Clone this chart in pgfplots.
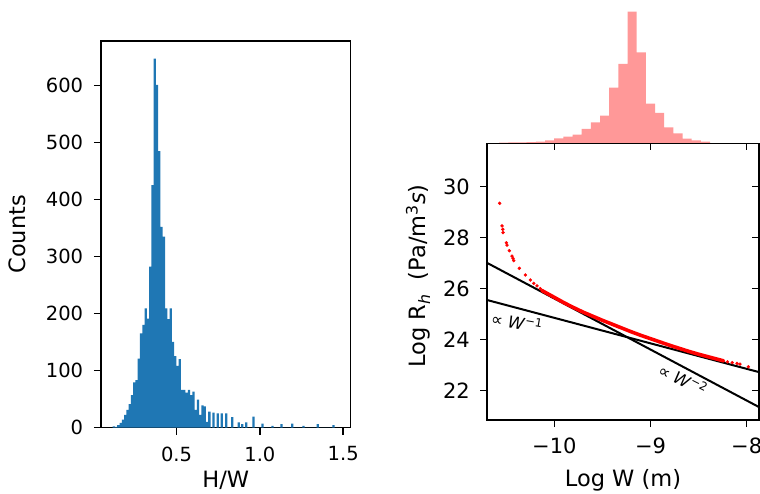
\documentclass[border=0pt]{standalone}
\usepackage{fontspec}
\setmainfont{DejaVu Sans}
\usepackage{pgfplots}
\pgfplotsset{compat=1.18}
\definecolor{mplblue}{HTML}{1F77B4}
\definecolor{pinkh}{RGB}{255,152,152}
\newcommand\fsA{\fontsize{19.5}{23}\selectfont}
\newcommand\fsAL{\fontsize{22.5}{26}\selectfont}
\newcommand\fsB{\fontsize{21}{25}\selectfont}
\newcommand\fsBL{\fontsize{22.5}{26}\selectfont}
\newcommand\fsC{\fontsize{16.5}{20}\selectfont}
\begin{document}
\begin{tikzpicture}[x=1pt,y=1pt]
% ---------------- left histogram ----------------
\begin{axis}[
  at={(101pt,65.5pt)}, anchor=south west,
  width=249.7pt, height=386.5pt, scale only axis,
  xmin=0.047, xmax=1.545, ymin=0, ymax=678,
  axis line style={line width=1.5pt},
  tick align=outside, xtick pos=bottom, ytick pos=left,
  major tick length=7pt,
  every tick/.style={black, line width=1.5pt},
  xtick={0.5,1.0,1.5}, xticklabels={0.5,1.0,1.5},
  ytick={0,100,200,300,400,500,600}, yticklabels={0,100,200,300,400,500,600},
  tick label style={font=\fsA},
  xticklabel style={inner sep=0pt, anchor=north, yshift=-12pt},
  yticklabel style={inner sep=0pt, anchor=east, xshift=-10.7pt},
  every axis x label/.style={at={(axis description cs:0.5,-0.156)}, anchor=base, font=\fsAL},
  every axis y label/.style={at={(axis description cs:-0.3344,0.5)}, rotate=90, anchor=center, font=\fsAL},
  xlabel={H/W}, ylabel={Counts},
]
\addplot[ybar interval, fill=mplblue, draw=none] coordinates {
(0.1170,2) (0.1307,1) (0.1443,4) (0.1580,8) (0.1716,14) (0.1853,22) (0.1989,31)
(0.2126,41) (0.2262,57) (0.2399,79) (0.2535,83) (0.2672,121) (0.2808,165) (0.2945,180)
(0.3081,209) (0.3218,191) (0.3354,282) (0.3491,425) (0.3627,647) (0.3764,601) (0.3900,485)
(0.4037,352) (0.4173,335) (0.4310,209) (0.4446,190) (0.4583,209) (0.4719,150) (0.4856,125)
(0.4992,108) (0.5129,120) (0.5265,66) (0.5402,66) (0.5538,61) (0.5675,66) (0.5811,57)
(0.5948,63) (0.6084,31) (0.6221,49) (0.6357,22) (0.6494,39) (0.6630,37) (0.6767,10)
(0.6903,28) (0.7040,0) (0.7150,26) (0.7287,0) (0.7410,25) (0.7547,0) (0.7650,25) (0.7787,0)
(0.7910,25) (0.8047,0) (0.8270,18) (0.8407,0) (0.8670,9) (0.8807,0) (0.8870,6) (0.9007,0)
(0.9110,9) (0.9247,0) (0.9550,19) (0.9687,0) (1.0090,7) (1.0227,0) (1.0690,3) (1.0827,0)
(1.1230,6) (1.1367,0) (1.1870,7) (1.2007,0) (1.2550,3) (1.2687,0) (1.3410,6) (1.3547,0)
(1.4350,4) (1.4487,0)
};
\end{axis}
% ---------------- right top histogram ----------------
\begin{axis}[
  at={(487pt,349.7pt)}, anchor=south west,
  width=272pt, height=133.3pt, scale only axis,
  xmin=-10.70, xmax=-7.872, ymin=0, ymax=133.3,
  hide axis,
]
\addplot[ybar interval, fill=pinkh, draw=none] coordinates {
(-10.5732,0.6) (-10.4779,0.8) (-10.3826,1.0) (-10.2873,1.2) (-10.1920,1.7)
(-10.0967,3) (-10.0014,5) (-9.9061,6.7) (-9.8108,8.7) (-9.7155,14.3) (-9.6202,21)
(-9.5249,27.7) (-9.4296,55.7) (-9.3343,79.3) (-9.2390,131.7) (-9.1437,91) (-9.0484,39.7)
(-8.9531,30.3) (-8.8578,16) (-8.7625,10) (-8.6672,4.7) (-8.5719,3) (-8.4766,1.7) (-8.3813,0)
};
\end{axis}
% ---------------- right main scatter ----------------
\begin{axis}[
  at={(487pt,73pt)}, anchor=south west,
  width=272pt, height=276.7pt, scale only axis,
  xmin=-10.70, xmax=-7.872, ymin=20.851, ymax=31.702,
  axis line style={line width=1.5pt},
  tick align=outside, xtick pos=bottom, ytick pos=left,
  major tick length=7pt,
  every tick/.style={black, line width=1.5pt},
  xtick={-10,-9,-8}, xticklabels={−10,−9,−8},
  ytick={22,24,26,28,30}, yticklabels={22,24,26,28,30},
  tick label style={font=\fsB},
  xticklabel style={inner sep=0pt, anchor=north, yshift=-11pt},
  yticklabel style={inner sep=0pt, anchor=east, xshift=-10pt},
  every axis x label/.style={at={(axis description cs:0.5,-0.2421)}, anchor=base, font=\fsBL},
  every axis y label/.style={at={(axis description cs:-0.2537,0.52)}, rotate=90, anchor=center, font=\fsBL},
  xlabel={Log W (m)},
  ylabel={Log R\textsubscript{\textit{h}}\ \ (Pa/m\textsuperscript{3}\textit{s})},
]
\addplot[black, line width=2pt] coordinates {(-10.70,25.557) (-7.872,22.729)};
\addplot[black, line width=2pt] coordinates {(-10.70,27.014) (-7.872,21.358)};
\addplot[red, line width=3.6pt, line join=round, line cap=round] coordinates {
(-10.13,25.93) (-10.0,25.66) (-9.9,25.45) (-9.8,25.26) (-9.7,25.08) (-9.6,24.92)
(-9.5,24.76) (-9.4,24.61) (-9.3,24.46) (-9.2,24.31) (-9.1,24.17) (-9.0,24.04)
(-8.9,23.91) (-8.8,23.78) (-8.7,23.66) (-8.6,23.54) (-8.5,23.43) (-8.4,23.33)
(-8.3,23.23) (-8.24,23.17)
};
\addplot[red, only marks, mark=*, mark size=1.5pt, mark options={draw=red, fill=red}] coordinates {
(-10.568,29.35) (-10.544,28.46) (-10.536,28.33) (-10.533,28.20) (-10.499,27.80)
(-10.492,27.71) (-10.468,27.49) (-10.44,27.28) (-10.429,27.19) (-10.422,27.10)
(-10.364,26.80) (-10.301,26.54) (-10.249,26.34) (-10.214,26.21) (-10.18,26.11)
(-10.146,26.00) (-8.20,23.13) (-8.15,23.10) (-8.10,23.07) (-8.07,23.04) (-7.983,22.94)
};
\node[rotate=-10, font=\fsC] at (axis cs:-10.388,24.69) {∝ \textit{W}\textsuperscript{−1}};
\node[rotate=-27, font=\fsC] at (axis cs:-8.662,22.45) {∝ \textit{W}\textsuperscript{−2}};
\end{axis}
% overlay with inward ticks on top and right
\begin{axis}[
  at={(487pt,73pt)}, anchor=south west,
  width=272pt, height=276.7pt, scale only axis,
  xmin=-10.70, xmax=-7.872, ymin=20.851, ymax=31.702,
  axis line style={line width=1.5pt},
  tick align=inside, xtick pos=top, ytick pos=right,
  major tick length=7pt,
  every tick/.style={black, line width=1.5pt},
  xtick={-10,-9,-8}, ytick={22,24,26,28,30},
  xticklabels={}, yticklabels={},
]
\end{axis}
\pgfresetboundingbox
\path[use as bounding box] (0,0) rectangle (760,493);
\end{tikzpicture}
\end{document}
